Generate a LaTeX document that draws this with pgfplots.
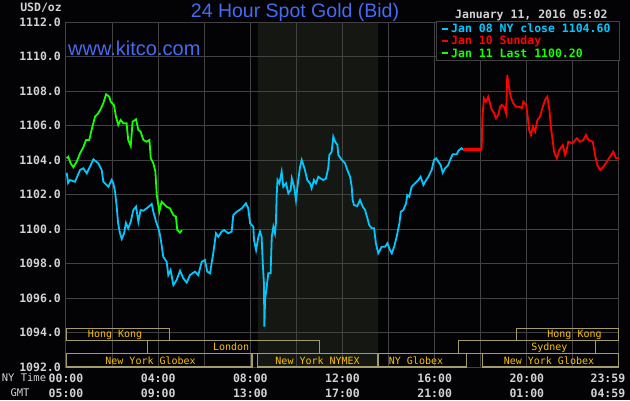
\documentclass[border=0pt]{standalone}
\usepackage{pgfplots}
\pgfplotsset{compat=1.18}
\usepackage{fontspec}
\setmainfont{Liberation Sans}
\newfontfamily\mono{DejaVu Sans Mono}
\definecolor{bg}{RGB}{3,3,6}
\definecolor{gridc}{RGB}{66,66,66}
\definecolor{shade}{RGB}{21,23,19}
\definecolor{labc}{RGB}{210,210,210}
\definecolor{titc}{RGB}{70,106,240}
\definecolor{cy}{RGB}{0,200,255}
\definecolor{gr}{RGB}{20,255,0}
\definecolor{rd}{RGB}{255,0,0}
\definecolor{sesst}{RGB}{255,192,0}
\definecolor{sessb}{RGB}{164,156,104}
\pagecolor{bg}
\begin{document}
\begin{tikzpicture}[x=1pt,y=1pt]
\begin{axis}[
  at={(0,0)}, anchor=south west,
  scale only axis, width=553pt, height=345pt,
  set layers,
  xmin=0, xmax=24, ymin=1092, ymax=1112,
  xtick={0,4,8,12,16,20},
  xticklabels={{00:00\\05:00},{04:00\\09:00},{08:00\\13:00},{12:00\\17:00},{16:00\\21:00},{20:00\\01:00}},
  extra x ticks={23.52},
  extra x tick labels={{23:59\\04:59}},
  extra x tick style={xmajorgrids=false},
  minor xtick={2,6,10,14,18,22},
  ytick={1092,1094,...,1112},
  yticklabels={1092.0,1094.0,1096.0,1098.0,1100.0,1102.0,1104.0,1106.0,1108.0,1110.0,1112.0},
  xmajorgrids=true, xminorgrids=true, ymajorgrids=true,
  grid style={draw=gridc, line width=1pt},
  minor grid style={draw=gridc, line width=1pt},
  major tick length=0pt, minor tick length=0pt,
  axis line style={draw=gridc, line width=1pt},
  xticklabel style={font=\mono\bfseries\fontsize{11.5}{15}\selectfont, text=labc, align=center, anchor=north, inner sep=0pt, yshift=-6.8pt},
  yticklabel style={font=\mono\bfseries\fontsize{11.5}{14}\selectfont, text=labc, anchor=east, inner sep=0pt, xshift=-5pt},
]
% NYMEX shaded session
\addplot[on layer=axis background, fill=shade, draw=none] coordinates {(8.33,1092) (13.55,1092) (13.55,1112) (8.33,1112) (8.33,1092)};
% session boxes
\draw[sessb, line width=1.3pt] (axis cs:0,1093.52) rectangle (axis cs:4.48,1094.24);
\draw[sessb, line width=1.3pt] (axis cs:19.56,1093.52) rectangle (axis cs:24,1094.24);
\draw[sessb, line width=1.3pt] (axis cs:3.53,1092.79) rectangle (axis cs:10.99,1093.52);
\draw[sessb, line width=1.3pt] (axis cs:17.03,1092.79) rectangle (axis cs:22.99,1093.52);
\draw[sessb, line width=1.3pt] (axis cs:0,1092) rectangle (axis cs:8.07,1092.79);
\draw[sessb, line width=1.3pt] (axis cs:8.30,1092) rectangle (axis cs:13.53,1092.79);
\draw[sessb, line width=1.3pt] (axis cs:13.55,1092) rectangle (axis cs:17.39,1092.79);
\draw[sessb, line width=1.3pt] (axis cs:18.07,1092) rectangle (axis cs:24,1092.79);
\begin{scope}[every node/.style={font=\mono\fontsize{10}{12}\selectfont, text=sesst, anchor=base, inner sep=0pt}]
\node at (axis cs:2.13,1093.72) {Hong Kong};
\node at (axis cs:22.07,1093.72) {Hong Kong};
\node at (axis cs:7.17,1092.945) {London};
\node at (axis cs:20.98,1092.945) {Sydney};
\node at (axis cs:3.67,1092.174) {New York Globex};
\node at (axis cs:10.92,1092.174) {New York NYMEX};
\node at (axis cs:15.19,1092.174) {NY Globex};
\node at (axis cs:20.96,1092.174) {New York Globex};
\end{scope}
% Jan 08 (cyan)
\addplot[cy, line width=1.8pt] coordinates {(0.03,1103.26)(0.09,1102.67)(0.17,1102.84)(0.39,1102.74)(0.61,1103.42)(0.75,1103.52)(0.90,1103.23)(1.04,1103.61)(1.19,1104.04)(1.40,1103.81)(1.55,1103.42)(1.62,1102.74)(1.84,1102.45)(1.98,1102.84)(2.05,1102.67)(2.13,1102.16)(2.20,1101.3)(2.26,1100.35)(2.34,1099.77)(2.42,1099.42)(2.52,1099.75)(2.60,1100.35)(2.70,1100.04)(2.81,1100.42)(2.92,1101.1)(3.04,1101.3)(3.14,1100.42)(3.24,1101.1)(3.36,1101.06)(3.50,1101.2)(3.62,1101.33)(3.72,1101.45)(3.79,1101.0)(3.91,1100.42)(4.01,1100.04)(4.08,1099.65)(4.15,1099.07)(4.22,1098.39)(4.37,1098.1)(4.44,1097.33)(4.54,1097.62)(4.66,1096.75)(4.80,1097.04)(4.95,1097.58)(5.09,1097.14)(5.24,1096.89)(5.38,1097.33)(5.60,1097.53)(5.74,1097.33)(5.89,1098.1)(6.03,1098.2)(6.13,1097.53)(6.25,1097.43)(6.39,1098.59)(6.51,1099.75)(6.61,1099.55)(6.76,1099.85)(6.86,1099.94)(7.04,1099.75)(7.19,1099.85)(7.26,1100.81)(7.41,1101.0)(7.63,1101.2)(7.81,1101.49)(7.91,1101.2)(7.99,1100.33)(8.13,1100.13)(8.16,1099.36)(8.25,1098.78)(8.35,1099.55)(8.42,1099.85)(8.49,1099.55)(8.54,1098.0)(8.59,1096.85)(8.61,1094.34)(8.64,1095.88)(8.71,1096.65)(8.78,1097.43)(8.88,1097.43)(8.93,1099.55)(9.00,1100.13)(9.07,1099.75)(9.11,1100.33)(9.14,1101.87)(9.18,1102.84)(9.26,1102.65)(9.36,1103.32)(9.43,1102.45)(9.55,1102.65)(9.65,1102.07)(9.75,1102.26)(9.80,1102.93)(9.90,1102.45)(9.98,1101.68)(10.08,1102.84)(10.16,1103.61)(10.23,1104.0)(10.30,1103.71)(10.37,1103.42)(10.47,1102.84)(10.59,1102.65)(10.66,1102.36)(10.76,1102.84)(10.85,1102.65)(10.95,1103.03)(11.05,1102.93)(11.17,1102.84)(11.28,1102.93)(11.38,1103.52)(11.43,1104.29)(11.53,1104.48)(11.60,1105.35)(11.68,1105.06)(11.78,1104.87)(11.82,1104.29)(11.97,1104.0)(12.11,1103.81)(12.21,1103.42)(12.33,1103.03)(12.40,1102.45)(12.44,1101.68)(12.50,1101.39)(12.64,1101.33)(12.76,1101.68)(12.88,1101.29)(12.98,1101.1)(13.08,1100.62)(13.16,1100.23)(13.27,1100.04)(13.37,1100.04)(13.45,1099.17)(13.55,1098.59)(13.70,1098.97)(13.85,1098.97)(13.95,1099.17)(14.06,1098.78)(14.14,1098.59)(14.24,1098.97)(14.35,1099.55)(14.47,1100.33)(14.53,1101.0)(14.64,1101.1)(14.76,1101.49)(14.81,1101.97)(14.90,1101.87)(15.00,1102.45)(15.15,1102.65)(15.29,1102.84)(15.39,1103.03)(15.51,1102.55)(15.63,1102.84)(15.73,1103.03)(15.80,1103.23)(15.87,1103.42)(15.97,1104.0)(16.06,1104.1)(16.16,1103.9)(16.26,1103.71)(16.35,1103.26)(16.45,1103.52)(16.59,1103.71)(16.67,1104.0)(16.78,1104.33)(16.96,1104.33)(17.03,1104.54)(17.17,1104.68)(17.24,1104.6)};
% close carried to Globex open
\addplot[rd, line width=3pt] coordinates {(17.24,1104.6)(18.04,1104.6)};
% Jan 10 (red)
\addplot[rd, line width=1.8pt] coordinates {(18.04,1104.6)(18.07,1106.42)(18.14,1107.58)(18.23,1107.38)(18.33,1107.67)(18.40,1107.29)(18.48,1106.9)(18.58,1106.71)(18.66,1106.42)(18.76,1106.61)(18.84,1107.09)(18.91,1107.19)(19.01,1107.09)(19.10,1106.71)(19.15,1108.93)(19.21,1108.35)(19.30,1107.67)(19.41,1107.29)(19.53,1107.09)(19.68,1107.09)(19.78,1107.0)(19.85,1107.38)(19.97,1107.19)(20.04,1106.51)(20.10,1105.74)(20.18,1105.45)(20.26,1105.93)(20.36,1105.64)(20.46,1106.32)(20.57,1106.51)(20.65,1106.9)(20.79,1107.48)(20.89,1107.67)(20.98,1106.9)(21.05,1105.84)(21.12,1105.16)(21.18,1104.48)(21.30,1104.1)(21.41,1104.58)(21.56,1104.87)(21.66,1104.29)(21.73,1104.58)(21.80,1105.06)(21.99,1104.97)(22.17,1105.26)(22.31,1105.06)(22.45,1105.16)(22.57,1105.45)(22.67,1105.16)(22.86,1105.06)(22.96,1104.29)(23.06,1103.71)(23.18,1103.42)(23.32,1103.61)(23.47,1103.9)(23.61,1104.19)(23.75,1104.48)(23.87,1104.1)(23.99,1104.1)};
% Jan 11 (green)
\addplot[gr, line width=1.8pt] coordinates {(0.03,1104.1)(0.10,1104.19)(0.20,1103.81)(0.32,1103.58)(0.46,1103.9)(0.61,1104.39)(0.75,1104.73)(0.87,1105.16)(1.01,1105.16)(1.11,1105.74)(1.26,1106.51)(1.40,1106.71)(1.50,1106.94)(1.62,1107.29)(1.74,1107.81)(1.88,1107.67)(1.94,1107.38)(2.08,1107.19)(2.17,1106.51)(2.27,1106.03)(2.37,1106.32)(2.49,1106.13)(2.63,1106.13)(2.70,1105.16)(2.81,1104.81)(2.89,1106.22)(3.04,1106.36)(3.14,1105.74)(3.24,1105.64)(3.36,1105.16)(3.50,1105.06)(3.62,1105.16)(3.68,1104.1)(3.79,1103.81)(3.88,1103.32)(3.94,1101.97)(4.05,1101.0)(4.15,1101.58)(4.22,1101.49)(4.37,1101.29)(4.51,1101.2)(4.66,1100.81)(4.77,1100.71)(4.83,1099.94)(4.95,1099.79)(5.03,1099.94)};
\end{axis}
% titles and labels
\node[anchor=base, inner sep=0pt, text=titc, font=\fontsize{19.5}{22}\selectfont] at (229,349.5) {24 Hour Spot Gold (Bid)};
\node[anchor=base west, inner sep=0pt, text=titc, font=\fontsize{20}{22}\selectfont] at (2,312) {www.kitco.com};
\node[anchor=base east, inner sep=0pt, text=labc, font=\mono\bfseries\fontsize{11.5}{14}\selectfont] at (-4,355) {USD/oz};
\node[anchor=base west, inner sep=0pt, text=labc, font=\mono\bfseries\fontsize{11.5}{14}\selectfont] at (389,348) {January 11, 2016 05:02};
\node[inner sep=0pt, text=labc, font=\mono\fontsize{10.5}{12}\selectfont] at (-42,-11) {NY Time};
\node[inner sep=0pt, text=labc, font=\mono\fontsize{10.5}{12}\selectfont] at (-46,-26) {GMT};
% legend
\draw[gridc, fill=bg, line width=1pt] (370,306) rectangle (553,345);
\draw[cy, line width=2pt] (375.7,338) -- (381.7,338);
\draw[rd, line width=2pt] (375.7,325.7) -- (381.7,325.7);
\draw[gr, line width=2pt] (375.7,313.7) -- (381.7,313.7);
\begin{scope}[every node/.style={anchor=base west, inner sep=0pt, font=\mono\bfseries\fontsize{11.5}{14}\selectfont}]
\node[text=cy] at (385,334.3) {Jan 08 NY close 1104.60};
\node[text=rd] at (385,322) {Jan 10 Sunday};
\node[text=gr] at (385,309.7) {Jan 11 Last 1100.20};
\end{scope}
\pgfresetboundingbox
\useasboundingbox (-66,-33) rectangle (564,367);
\end{tikzpicture}
\end{document}
